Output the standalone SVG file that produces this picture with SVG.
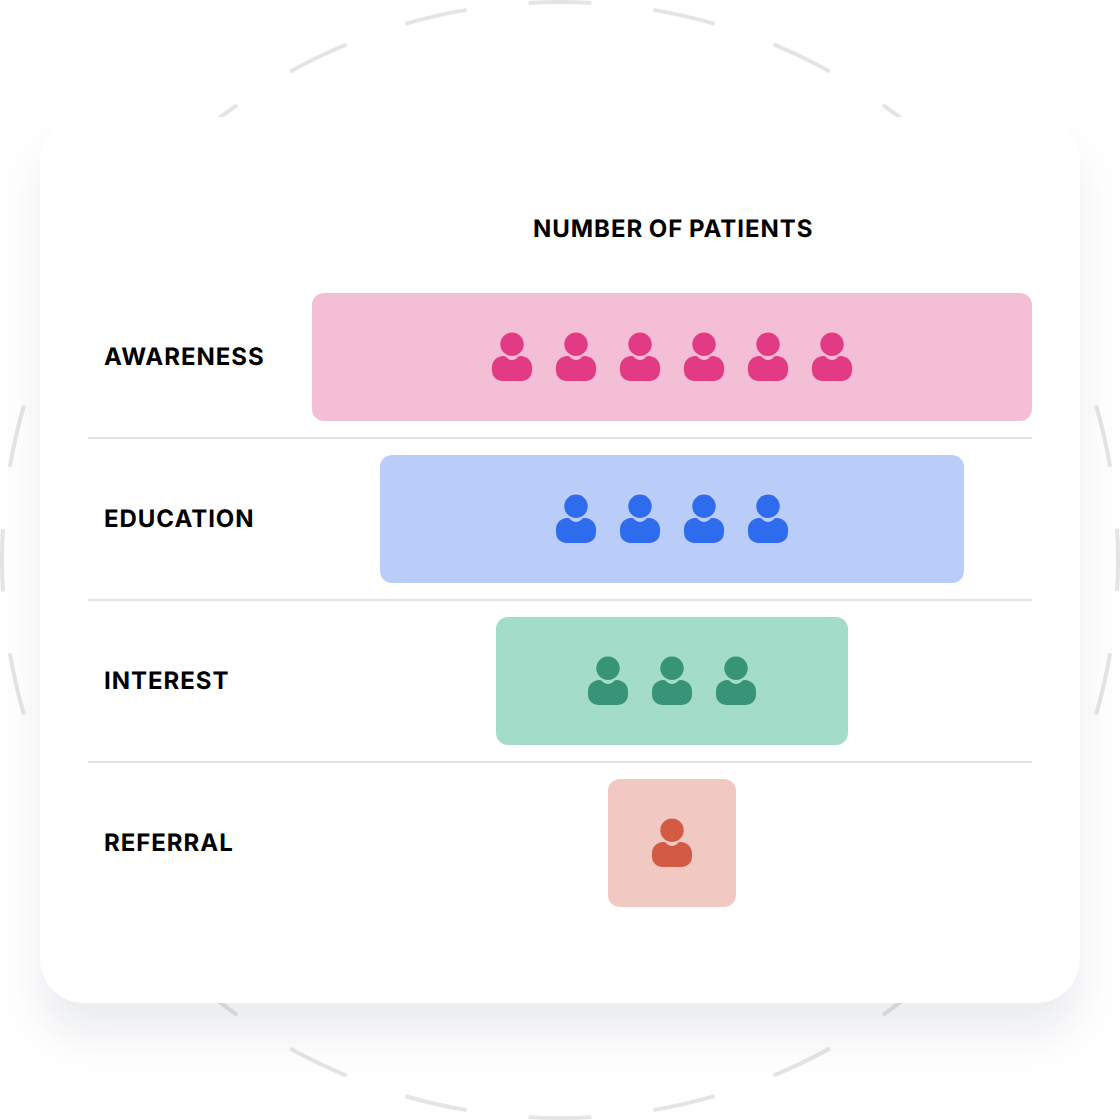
<svg xmlns="http://www.w3.org/2000/svg" width="1120" height="1120" viewBox="0 0 1120 1120">
<style>
.lbl{font-family:Inter,"Liberation Sans",sans-serif;font-weight:700;font-size:24px;letter-spacing:.96px;word-spacing:-1px;fill:#000;text-rendering:geometricPrecision}
.div{stroke:#e0e2e3;stroke-width:2;fill:none}
</style>
<defs>
<filter id="sh" filterUnits="userSpaceOnUse" x="-100" y="0" width="1320" height="1120" color-interpolation-filters="sRGB"><feGaussianBlur stdDeviation="22"/></filter>
<g id="p"><circle cx="0" cy="-12.7" r="11.7"/><path d="M-20 14v-4c0-6 5-11 11-11 1.5 0 2.3.4 3 1 1.5 1.6 3.5 3 6 3s4.5-1.4 6-3c.7-.6 1.5-1 3-1 6 0 11 5 11 11v4a10 10 0 0 1-10 10h-20a10 10 0 0 1-10-10z"/></g>
</defs>
<rect width="1120" height="1120" fill="#fff"/>
<circle id="ring" cx="560" cy="560" r="558" fill="none" stroke="#e3e5e5" stroke-width="4" stroke-dasharray="62.6 62.6" stroke-dashoffset="31.3" transform="rotate(-90 560 560)"/>
<rect x="40" y="149" width="1040" height="886" rx="44" fill="#20304a" fill-opacity=".09" filter="url(#sh)"/>
<rect id="card" x="40" y="117" width="1040" height="886" rx="44" fill="#fff"/>
<text class="lbl" x="533" y="237">NUMBER OF PATIENTS</text>
<g id="connectors">
<line class="div" x1="88" y1="438" x2="1032" y2="438"/>
<line class="div" x1="88" y1="600" x2="1032" y2="600"/>
<line class="div" x1="88" y1="762" x2="1032" y2="762"/>
</g>
<g id="awareness">
<text class="lbl" x="104" y="365">AWARENESS</text>
<rect x="312" y="293" width="720" height="128" rx="12" fill="#f4bed6"/>
<g fill="#e23a84"><use href="#p" x="512" y="357"/><use href="#p" x="576" y="357"/><use href="#p" x="640" y="357"/><use href="#p" x="704" y="357"/><use href="#p" x="768" y="357"/><use href="#p" x="832" y="357"/></g>
</g>
<g id="education">
<text class="lbl" x="104" y="527">EDUCATION</text>
<rect x="380" y="455" width="584" height="128" rx="12" fill="#bacdf8"/>
<g fill="#2f6bed"><use href="#p" x="576" y="519"/><use href="#p" x="640" y="519"/><use href="#p" x="704" y="519"/><use href="#p" x="768" y="519"/></g>
</g>
<g id="interest">
<text class="lbl" x="104" y="689">INTEREST</text>
<rect x="496" y="617" width="352" height="128" rx="12" fill="#a4dcca"/>
<g fill="#389476"><use href="#p" x="608" y="681"/><use href="#p" x="672" y="681"/><use href="#p" x="736" y="681"/></g>
</g>
<g id="referral">
<text class="lbl" x="104" y="851">REFERRAL</text>
<rect x="608" y="779" width="128" height="128" rx="12" fill="#f2c9c2"/>
<g fill="#d35b43"><use href="#p" x="672" y="843"/></g>
</g>
</svg>
